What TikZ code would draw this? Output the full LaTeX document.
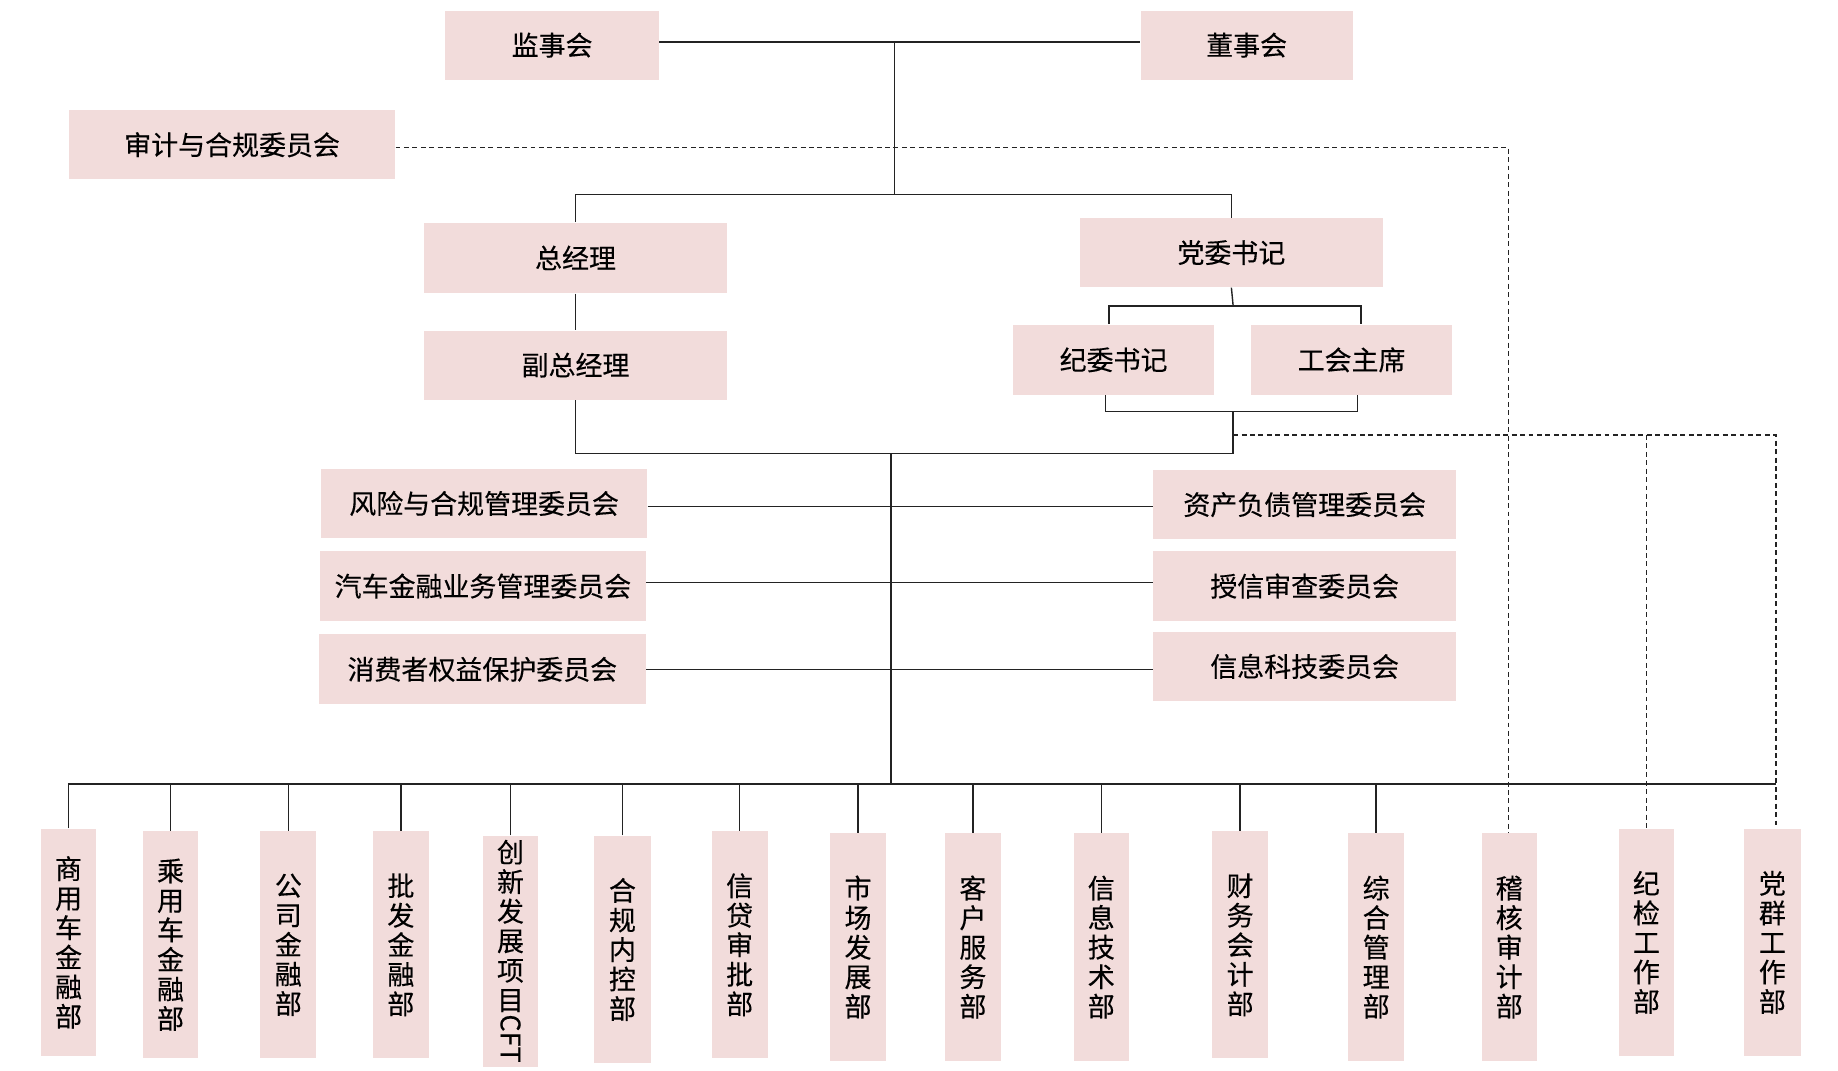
\documentclass[tikz,border=0pt]{standalone}
\usepackage{fontspec}
\setmainfont[FakeBold=0.3]{Noto Sans CJK SC}
\usepackage{graphicx}
\usetikzlibrary{calc}
\definecolor{boxpink}{RGB}{242,220,219}
\definecolor{linec}{RGB}{35,35,35}
\tikzset{
  box/.style={fill=boxpink, draw=none, inner sep=0pt, align=center,
    font=\fontsize{11.5pt}{12.6pt}\selectfont, text=black},
  conn/.style={draw=linec, line width=0.6pt},
  dconn/.style={draw=linec, line width=0.6pt, dash pattern=on 2.1pt off 1.5pt},
}
\newcommand\orgbox[6]{\node[box, minimum width={(#4-#2)*0.5pt}, minimum height={(#5-#3)*0.5pt}] (#1) at ({(#2+#4)/2},{(#3+#5)/2}) {#6};}
\begin{document}
\begin{tikzpicture}[x=0.5pt,y=-0.5pt]
\useasboundingbox (0,0) rectangle (1568,913);

% top level
\orgbox{jsh}{380}{9}{562}{68}{监事会}
\orgbox{dsh}{973}{9}{1154}{68}{董事会}
\orgbox{sj}{59}{94}{337}{153}{审计与合规委员会}
\orgbox{zjl}{362}{190}{620}{250}{总经理}
\orgbox{fzjl}{362}{282}{620}{341}{副总经理}
\orgbox{dwsj}{921}{186}{1180}{245}{党委书记}
\orgbox{jwsj}{864}{277}{1036}{337}{纪委书记}
\orgbox{ghzx}{1067}{277}{1239}{337}{工会主席}

% committees
\orgbox{c1}{274}{400}{552}{459}{风险与合规管理委员会}
\orgbox{c2}{273}{470}{551}{530}{汽车金融业务管理委员会}
\orgbox{c3}{272}{541}{551}{601}{消费者权益保护委员会}
\orgbox{c4}{984}{401}{1242}{460}{资产负债管理委员会}
\orgbox{c5}{984}{470}{1242}{530}{授信审查委员会}
\orgbox{c6}{984}{539}{1242}{598}{信息科技委员会}

% departments
\orgbox{b1}{35}{707}{82}{901}{商\\用\\车\\金\\融\\部}
\orgbox{b2}{122}{709}{169}{903}{乘\\用\\车\\金\\融\\部}
\orgbox{b3}{222}{709}{270}{903}{公\\司\\金\\融\\部}
\orgbox{b4}{318}{709}{366}{903}{批\\发\\金\\融\\部}
\orgbox{b5}{412}{713}{459}{910}{创\\新\\发\\展\\项\\目\\\rotatebox[origin=c]{-90}{CFT}}
\orgbox{b6}{507}{713}{555}{907}{合\\规\\内\\控\\部}
\orgbox{b7}{607}{709}{655}{903}{信\\贷\\审\\批\\部}
\orgbox{b8}{708}{711}{756}{905}{市\\场\\发\\展\\部}
\orgbox{b9}{806}{711}{854}{905}{客\\户\\服\\务\\部}
\orgbox{b10}{916}{711}{963}{905}{信\\息\\技\\术\\部}
\orgbox{b11}{1034}{709}{1082}{903}{财\\务\\会\\计\\部}
\orgbox{b12}{1150}{711}{1198}{905}{综\\合\\管\\理\\部}
\orgbox{b13}{1264}{711}{1311}{905}{稽\\核\\审\\计\\部}
\orgbox{b14}{1381}{707}{1428}{901}{纪\\检\\工\\作\\部}
\orgbox{b15}{1488}{707}{1536}{901}{党\\群\\工\\作\\部}

% junction coordinates
\coordinate (j1) at (763,36);
\coordinate (j2) at (763,166);
\coordinate (j3) at (1052,261);
\coordinate (j4) at (1052,351);
\coordinate (j5) at (1052,387);
\coordinate (j6) at (760,387);
\coordinate (j7) at (760,669);
\coordinate (bL) at (58,669);
\coordinate (bR) at (1515,669);
\coordinate (d1) at (1287,126);
\coordinate (d2) at (1052,371);
\coordinate (r1) at (760,432);
\coordinate (r2) at (760,497);
\coordinate (r3) at (760,571);

% solid connectors
\draw[conn] (jsh.east |- j1) -- (dsh.west |- j1);
\draw[conn] (j1) -- (j2);
\draw[conn] (zjl.north) |- (j2) -| (dwsj.north);
\draw[conn] (zjl) -- (fzjl);
\draw[conn] (dwsj.south) -- (j3);
\draw[conn] ($(jwsj.north)+(-4,0)$) |- (j3) -| ($(ghzx.north)+(8,0)$);
\draw[conn] ($(jwsj.south)+(-7,0)$) |- (j4) -| ($(ghzx.south)+(5,0)$);
\draw[conn] (j4) -- (j5);
\draw[conn] (fzjl.south) |- (j5);
\draw[conn] (j6) -- (j7);
\draw[conn] (c1.east |- r1) -- (c4.west |- r1);
\draw[conn] (c2.east |- r2) -- (c5.west |- r2);
\draw[conn] (c3.east |- r3) -- (c6.west |- r3);
\draw[conn] (bL) -- (bR);
\foreach \b in {b1,b2,b3,b4,b5,b6,b7,b8,b9,b10,b11,b12}{
  \draw[conn] (\b.north) -- (\b.north |- bL);
}

% dashed connectors
\draw[dconn] (sj.east |- d1) -- (d1) -- (b13.north -| d1);
\draw[dconn] (d2) -| (bR) -- (b15.north -| bR);
\draw[dconn] (d2 -| b14.north) -- (b14.north);
\end{tikzpicture}
\end{document}
